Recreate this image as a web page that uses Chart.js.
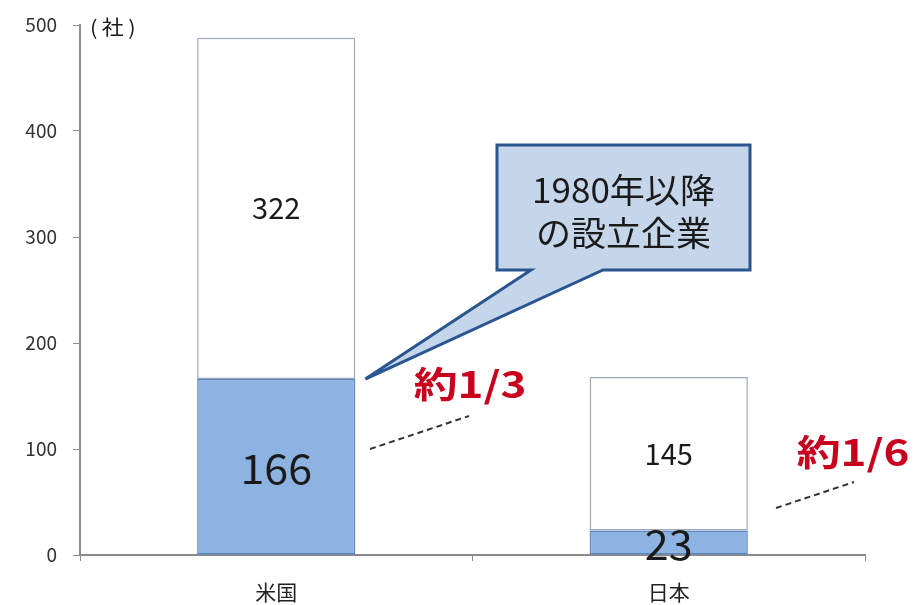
<!DOCTYPE html>
<html>
<head>
<meta charset="utf-8">
<script src="https://cdn.jsdelivr.net/npm/chart.js@4.4.1/dist/chart.umd.min.js"></script>
<style>
  body { margin: 0; background: #fff; }
  canvas { display: block; }
</style>
</head>
<body>
<canvas id="chart" width="923" height="605"></canvas>
<script>
// 企業数（社）
const categories = ['米国', '日本'];
const since1980 = [166, 23];     // 1980年以降の設立企業
const before1980 = [322, 145];   // それ以外
const yTicks = [0, 100, 200, 300, 400, 500];
const unitLabel = '(社)';
const calloutLines = ['1980年以降', 'の設立企業'];
const ratioLabels = ['約1/3', '約1/6'];

const FONT = '"Noto Sans CJK JP", "Noto Sans", sans-serif';

// 横に少し広げて文字を書く
function wideText(ctx, text, x, y, sx) {
    ctx.save();
    ctx.translate(x, y);
    ctx.scale(sx, 1);
    ctx.fillText(text, 0, 0);
    ctx.restore();
}

// 棒の上に値、吹き出し、比率の注記を描く
const annotations = {
    id: 'annotations',
    afterDatasetsDraw(chart) {
        const ctx = chart.ctx;
        const y = chart.scales.y;
        const lower = chart.getDatasetMeta(0).data;
        const upper = chart.getDatasetMeta(1).data;

        ctx.save();
        ctx.textAlign = 'center';
        ctx.textBaseline = 'middle';
        ctx.fillStyle = '#1a1a1a';

        lower.forEach((bar, i) => {
            ctx.font = '41px ' + FONT;
            wideText(ctx, String(since1980[i]), bar.x, (bar.y + bar.base) / 2 + 2, 1.05);
        });
        upper.forEach((bar, i) => {
            ctx.font = '29px ' + FONT;
            wideText(ctx, String(before1980[i]), bar.x, (bar.y + bar.base) / 2, 1.0);
        });

        // 単位
        ctx.font = '20px ' + FONT;
        ctx.textAlign = 'left';
        ctx.letterSpacing = '4px';
        wideText(ctx, unitLabel, chart.chartArea.left + 10, y.getPixelForValue(500) + 2, 1.1);
        ctx.letterSpacing = '0px';

        // 吹き出し
        const us = lower[0];
        const tipX = us.x + us.width / 2 + 10;
        const tipY = y.getPixelForValue(since1980[0]);
        const bx0 = 497, by0 = 145, bx1 = 750, by1 = 270;
        ctx.beginPath();
        ctx.moveTo(bx0, by0);
        ctx.lineTo(bx1, by0);
        ctx.lineTo(bx1, by1);
        ctx.lineTo(603, by1);
        ctx.lineTo(tipX, tipY);
        ctx.lineTo(531, by1);
        ctx.lineTo(bx0, by1);
        ctx.closePath();
        ctx.fillStyle = '#c6d6ea';
        ctx.fill();
        ctx.lineWidth = 3;
        ctx.lineJoin = 'miter';
        ctx.strokeStyle = '#2b5591';
        ctx.stroke();

        ctx.fillStyle = '#1a1a1a';
        ctx.textAlign = 'center';
        ctx.font = '34px ' + FONT;
        wideText(ctx, calloutLines[0], (bx0 + bx1) / 2, 190, 1.03);
        wideText(ctx, calloutLines[1], (bx0 + bx1) / 2, 233, 1.03);

        // 比率と破線
        const ratioPos = [
            { tx: 470, ty: 384, l: [370, 449, 469, 416] },
            { tx: 853, ty: 452, l: [776, 508, 854, 482] }
        ];
        ratioPos.forEach((p, i) => {
            ctx.fillStyle = '#c8001e';
            ctx.font = 'bold 36px ' + FONT;
            ctx.textAlign = 'center';
            wideText(ctx, ratioLabels[i], p.tx, p.ty, 1.22);
            ctx.beginPath();
            ctx.setLineDash([6, 4]);
            ctx.lineWidth = 2;
            ctx.strokeStyle = '#333';
            ctx.moveTo(p.l[0], p.l[1]);
            ctx.lineTo(p.l[2], p.l[3]);
            ctx.stroke();
            ctx.setLineDash([]);
        });

        ctx.restore();
    }
};

new Chart(document.getElementById('chart'), {
    type: 'bar',
    data: {
        labels: categories,
        datasets: [{
            data: since1980,
            backgroundColor: '#8db3e2',
            borderColor: '#5a86c2',
            borderWidth: 1.5,
            borderSkipped: false
        }, {
            data: before1980,
            backgroundColor: '#ffffff',
            borderColor: '#9aa6bb',
            borderWidth: 1.5,
            borderSkipped: false
        }]
    },
    options: {
        responsive: false,
        animation: false,
        layout: { padding: { top: 25, right: 58, left: 0, bottom: 0 } },
        datasets: { bar: { categoryPercentage: 1, barPercentage: 0.403 } },
        plugins: { legend: { display: false }, tooltip: { enabled: false } },
        scales: {
            x: {
                stacked: true,
                afterFit: s => { s.height = 50; s.paddingLeft = 0; s.paddingRight = 0; },
                border: { color: '#8a8a8a', width: 2 },
                grid: { drawOnChartArea: false, drawTicks: true, tickLength: 6, color: '#8a8a8a', offset: true },
                ticks: { color: '#222', padding: 18, font: { family: FONT, size: 21 } }
            },
            y: {
                stacked: true,
                min: 0,
                max: 500,
                afterFit: s => { s.width = 80; s.paddingTop = 0; s.paddingBottom = 0; },
                afterBuildTicks: s => { s.ticks = yTicks.map(v => ({ value: v })); },
                border: { color: '#8a8a8a', width: 2 },
                grid: { drawOnChartArea: false, drawTicks: true, tickLength: 7, color: '#8a8a8a' },
                ticks: { color: '#333', padding: 16, font: { family: FONT, size: 19 } }
            }
        }
    },
    plugins: [annotations]
});
</script>
</body>
</html>
